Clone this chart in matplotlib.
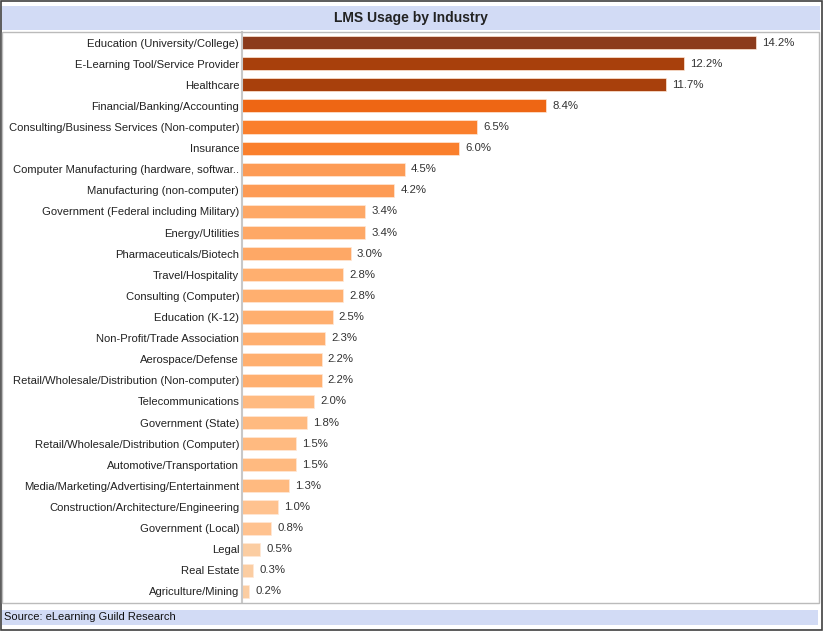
import matplotlib.pyplot as plt
from matplotlib.patches import Rectangle

industries = [
    'Education (University/College)', 'E-Learning Tool/Service Provider', 'Healthcare',
    'Financial/Banking/Accounting', 'Consulting/Business Services (Non-computer)', 'Insurance',
    'Computer Manufacturing (hardware, softwar..', 'Manufacturing (non-computer)',
    'Government (Federal including Military)', 'Energy/Utilities', 'Pharmaceuticals/Biotech',
    'Travel/Hospitality', 'Consulting (Computer)', 'Education (K-12)',
    'Non-Profit/Trade Association', 'Aerospace/Defense',
    'Retail/Wholesale/Distribution (Non-computer)', 'Telecommunications',
    'Government (State)', 'Retail/Wholesale/Distribution (Computer)',
    'Automotive/Transportation', 'Media/Marketing/Advertising/Entertainment',
    'Construction/Architecture/Engineering', 'Government (Local)', 'Legal',
    'Real Estate', 'Agriculture/Mining',
]
usage = [14.2, 12.2, 11.7, 8.4, 6.5, 6.0, 4.5, 4.2, 3.4, 3.4, 3.0, 2.8, 2.8, 2.5,
         2.3, 2.2, 2.2, 2.0, 1.8, 1.5, 1.5, 1.3, 1.0, 0.8, 0.5, 0.3, 0.2]

# colour steps by value (darker for larger shares)
def bar_color(v):
    if v >= 13: return '#8C3B1C'
    if v >= 10: return '#A8400C'
    if v >= 8: return '#EE6614'
    if v >= 5.5: return '#FA7F2C'
    if v >= 4: return '#FD9B55'
    if v >= 2.9: return '#FEA866'
    if v >= 2.1: return '#FFAF6F'
    if v >= 1.2: return '#FFBA80'
    if v >= 0.7: return '#FFC28F'
    return '#FBCDA2'

W, H = 823, 631
fig = plt.figure(figsize=(W / 100, H / 100), dpi=100)
plt.rcParams['font.family'] = ['Liberation Sans', 'DejaVu Sans']

def fx(px): return px / W
def fy(py): return 1 - py / H

# outer border, title bar, plot frame, source bar
fig.patches.append(Rectangle((fx(0.5), fy(630)), fx(821.5), 629.5 / H, transform=fig.transFigure,
                             fill=False, edgecolor='#404040', lw=1.2))
fig.patches.append(Rectangle((fx(2), fy(30)), fx(818), 24 / H, transform=fig.transFigure,
                             facecolor='#D2DBF5', edgecolor='none'))
fig.patches.append(Rectangle((fx(2), fy(603)), fx(817), 571 / H, transform=fig.transFigure,
                             fill=False, edgecolor='#BBBBBB', lw=1))
fig.patches.append(Rectangle((fx(2), fy(625)), fx(816), 15 / H, transform=fig.transFigure,
                             facecolor='#D2DBF5', edgecolor='none'))
fig.text(fx(411), fy(18), 'LMS Usage by Industry', ha='center', va='center',
         fontsize=10, fontweight='bold', family=['Liberation Sans Narrow', 'Liberation Sans'],
         color='#222222')
fig.text(fx(4), fy(617.5), 'Source: eLearning Guild Research', ha='left', va='center',
         fontsize=8, color='#111111')

ax = fig.add_axes([fx(242), fy(602), fx(576), 570 / H])
y = list(range(len(industries)))
ax.barh(y, usage, height=0.62, color=[bar_color(v) for v in usage],
        edgecolor='#FFE8D6', linewidth=0.5)
for yi, v in zip(y, usage):
    ax.text(v + 0.17, yi, f'{v:.1f}%', va='center', ha='left', fontsize=8.2, color='#333333')
ax.set_yticks(y)
ax.set_yticklabels(industries, fontsize=8.1, color='#222222')
ax.tick_params(axis='y', length=0, pad=2)
ax.set_xticks([])
ax.set_xlim(0, 576 / 36.2)
ax.set_ylim(len(industries) - 0.5, -0.5)
for s in ['top', 'right', 'bottom']:
    ax.spines[s].set_visible(False)
ax.spines['left'].set_color('#C8C8C8')
ax.spines['left'].set_linewidth(1.5)
ax.patch.set_alpha(0)

fig.savefig('out.png', dpi=100)
